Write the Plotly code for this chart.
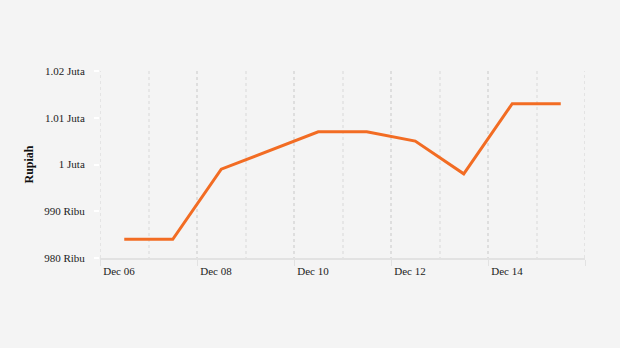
import plotly.graph_objects as go

dates = ["2023-12-06 12:00", "2023-12-07 12:00", "2023-12-08 12:00", "2023-12-10 12:00",
         "2023-12-11 12:00", "2023-12-12 12:00", "2023-12-13 12:00", "2023-12-14 12:00",
         "2023-12-15 12:00"]
prices = [984000, 984000, 999000, 1007000, 1007000, 1005000, 998000, 1013000, 1013000]

x_range = ["2023-12-06", "2023-12-16"]
x_tickvals = ["2023-12-06", "2023-12-08", "2023-12-10", "2023-12-12", "2023-12-14", "2023-12-16"]
x_ticktext = ["Dec 06", "Dec 08", "Dec 10", "Dec 12", "Dec 14", ""]

y_tickvals = [980000, 990000, 1000000, 1010000, 1020000]
y_ticktext = ["980 Ribu", "990 Ribu", "1 Juta", "1.01 Juta", "1.02 Juta"]

font_family = "Liberation Serif, Times New Roman, serif"
grid_major = "#dedede"

fig = go.Figure()
fig.add_trace(go.Scatter(
    x=dates, y=prices, mode="lines",
    line=dict(color="#f26c23", width=3),
    hoverinfo="skip",
))

# gridlines at both range edges (plotly skips grid lines lying on the plot edge)
for edge in x_range:
    fig.add_shape(type="line", xref="x", yref="paper", x0=edge, x1=edge, y0=0, y1=1,
                  line=dict(color=grid_major, width=1.5, dash="3px,3px"), layer="below")

fig.update_layout(
    width=620, height=348,
    paper_bgcolor="#f4f4f4", plot_bgcolor="#f4f4f4",
    margin=dict(l=100, r=35, t=71, b=90),
    showlegend=False,
    font=dict(family=font_family, size=11, color="#222222"),
)

fig.update_xaxes(
    type="date",
    range=x_range,
    tickmode="array", tickvals=x_tickvals, ticktext=x_ticktext,
    ticks="outside", ticklen=6, tickcolor="#e2e2e2", tickwidth=1,
    ticklabelshift=19, ticklabelstandoff=-4,
    showline=True, linecolor="#e2e2e2", linewidth=2,
    showgrid=True, gridcolor=grid_major, griddash="3px,3px", gridwidth=1.5,
    minor=dict(tickmode="linear", tick0="2023-12-06", dtick=86400000, showgrid=True,
               gridcolor="#e6e6e6", griddash="3px,3px", gridwidth=1.5, ticks=""),
    zeroline=False,
    tickfont=dict(family=font_family, size=11, color="#222222"),
)

fig.update_yaxes(
    range=[980000, 1020000],
    tickvals=y_tickvals, ticktext=y_ticktext,
    ticks="outside", ticklen=5, tickcolor="#ffffff", tickwidth=2,
    ticklabelstandoff=7,
    showgrid=False, zeroline=False, showline=False,
    tickfont=dict(family=font_family, size=11, color="#222222"),
    title=dict(text="<b>Rupiah</b>", standoff=7,
               font=dict(family=font_family, size=12, color="#111111")),
)

fig.write_html("out.html")
